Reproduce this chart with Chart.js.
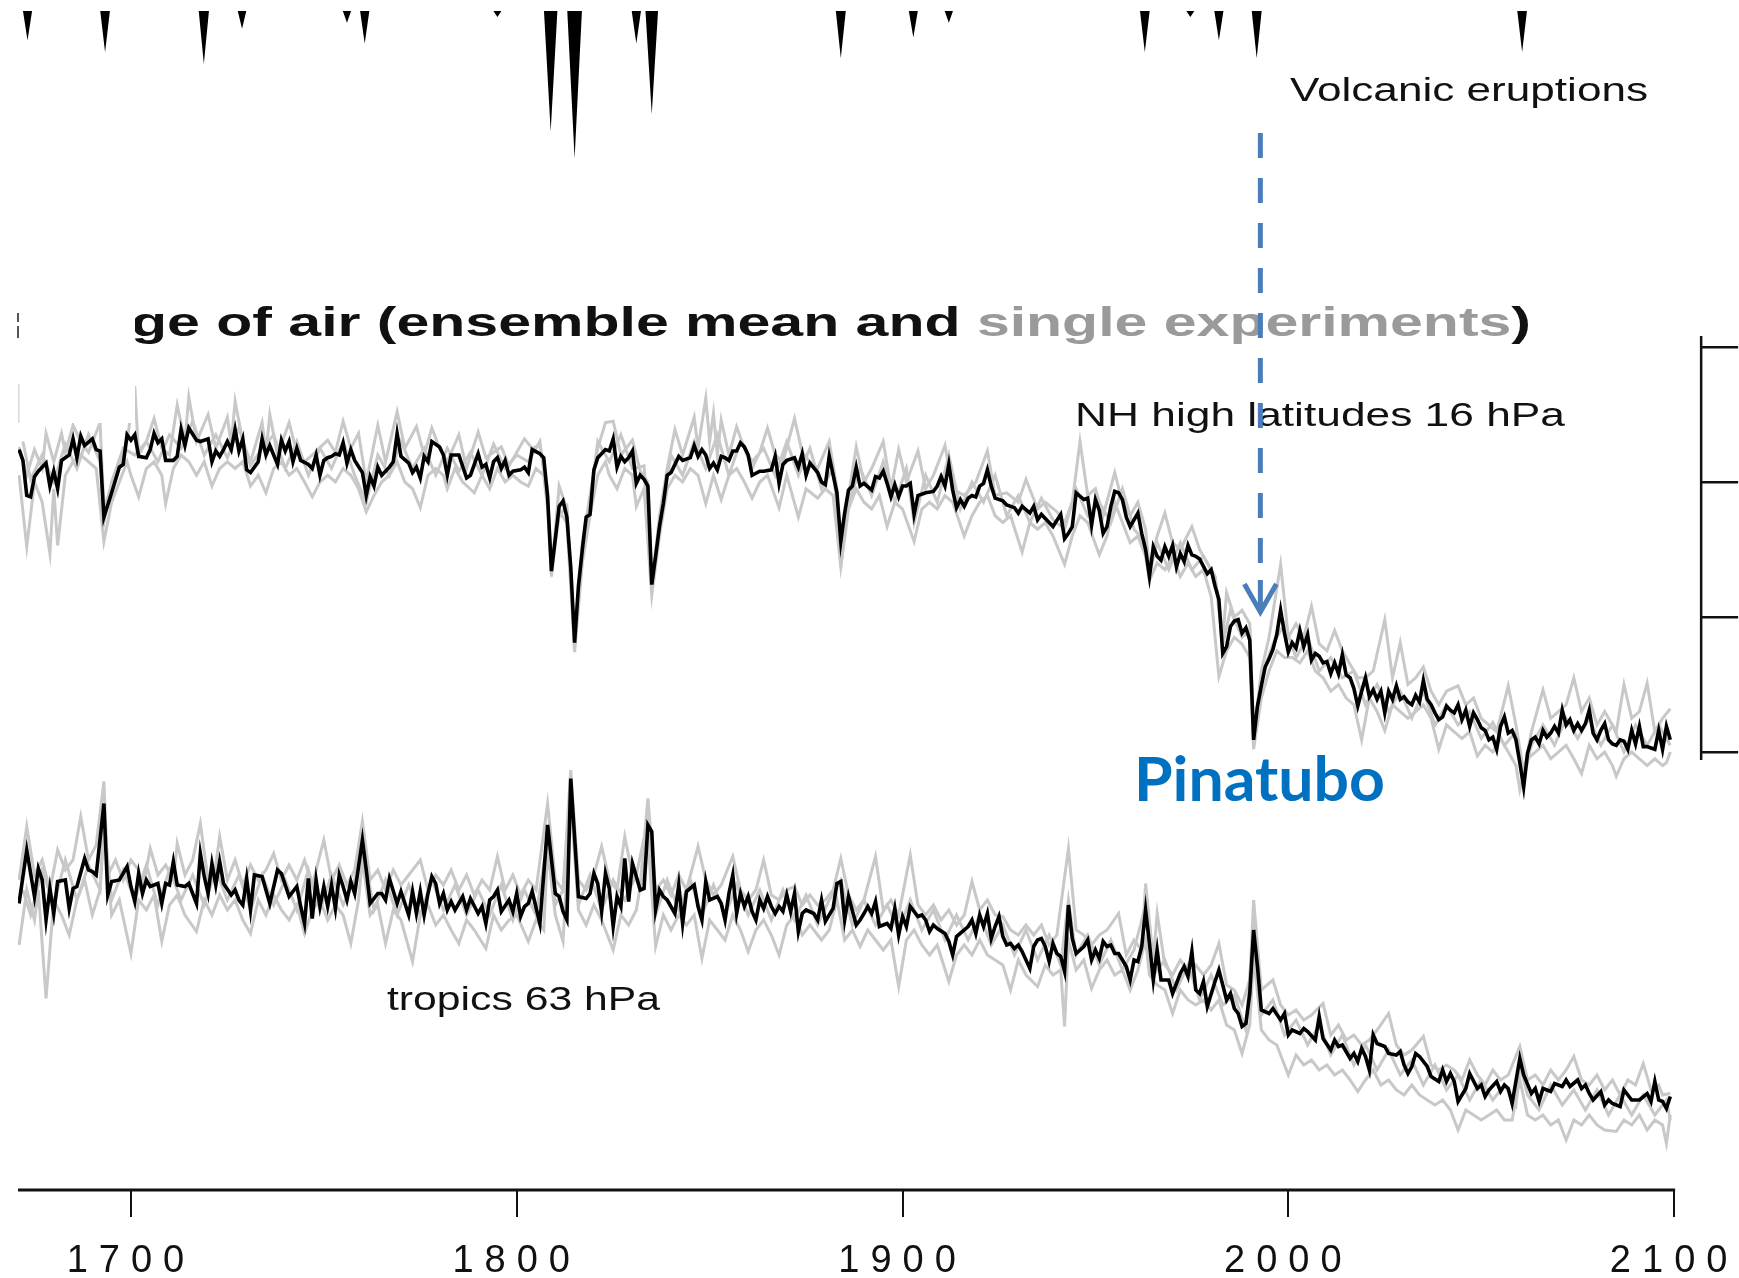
<!DOCTYPE html>
<html>
<head>
<meta charset="utf-8">
<title>Mean age of air</title>
<script src="https://cdn.jsdelivr.net/npm/chart.js@4.4.1/dist/chart.umd.min.js"></script>
<style>
  html, body { margin: 0; padding: 0; background: #ffffff; }
  #wrap { width: 1739px; height: 1278px; position: relative; }
  canvas { display: block; }
</style>
</head>
<body>
<div id="wrap"><canvas id="c" width="1739" height="1278"></canvas></div>
<script>
// ---------------------------------------------------------------
// Axis ticks
// ---------------------------------------------------------------
const TICK_YEARS = [1700, 1800, 1900, 2000, 2100];
const NH_AGE_TICKS = [4, 5, 6, 7];

// ---------------------------------------------------------------
// Volcanic eruptions: year and stratospheric aerosol forcing
// ---------------------------------------------------------------
const eruptionYears   = [1673.2, 1693.3, 1718.9, 1728.8, 1756.0, 1760.6, 1795.0, 1808.8, 1815.0, 1831.0,
                         1835.0, 1884.0, 1902.8, 1912.0, 1962.8, 1974.6, 1982.0, 1991.8, 2060.6];
const eruptionForcing = [0.10, 0.14, 0.18, 0.06, 0.04, 0.11, 0.02, 0.41, 0.50, 0.11,
                         0.35, 0.16, 0.09, 0.04, 0.14, 0.02, 0.10, 0.16, 0.14];

// ---------------------------------------------------------------
// NH high latitudes 16 hPa, mean age of air (years): [year, age]
// ---------------------------------------------------------------
const nhEnsembleMean = [
  [1671,6.24],[1672,6.16],[1673,5.90],[1674,5.89],[1675,6.04],[1676,6.08],[1678,6.14],[1679,5.97],[1680,6.08],[1681,5.95],
  [1682,6.16],[1684,6.20],[1685,6.32],[1686,6.18],[1687,6.34],[1688,6.27],[1690,6.32],[1691,6.24],[1692,6.23],[1693,5.74],
  [1695,5.92],[1697,6.11],[1698,6.13],[1699,6.35],[1700,6.31],[1701,6.35],[1702,6.19],[1704,6.18],[1705,6.24],[1706,6.36],
  [1707,6.29],[1708,6.32],[1709,6.16],[1711,6.16],[1712,6.19],[1713,6.39],[1714,6.27],[1715,6.40],[1717,6.31],[1718,6.30],
  [1720,6.32],[1721,6.15],[1722,6.23],[1723,6.19],[1724,6.24],[1725,6.30],[1726,6.24],[1727,6.39],[1728,6.23],[1729,6.32],
  [1730,6.09],[1731,6.07],[1733,6.15],[1734,6.32],[1735,6.20],[1736,6.27],[1737,6.20],[1738,6.13],[1739,6.31],[1740,6.23],
  [1741,6.30],[1742,6.15],[1743,6.25],[1744,6.16],[1746,6.13],[1747,6.10],[1748,6.20],[1749,6.05],[1750,6.16],[1751,6.18],
  [1752,6.19],[1753,6.21],[1754,6.20],[1755,6.29],[1756,6.14],[1757,6.24],[1758,6.16],[1760,6.07],[1761,5.90],[1762,6.04],
  [1763,5.97],[1764,6.11],[1765,6.05],[1767,6.11],[1768,6.15],[1769,6.36],[1770,6.19],[1772,6.14],[1773,6.07],[1774,6.11],
  [1775,6.03],[1776,6.19],[1777,6.15],[1778,6.30],[1780,6.26],[1781,6.20],[1782,6.05],[1783,6.20],[1785,6.20],[1787,6.03],
  [1788,6.05],[1790,6.21],[1791,6.11],[1792,6.13],[1793,6.03],[1794,6.15],[1795,6.18],[1796,6.10],[1797,6.16],[1798,6.05],
  [1799,6.08],[1801,6.09],[1802,6.11],[1803,6.07],[1804,6.24],[1806,6.21],[1807,6.18],[1808,5.89],[1809,5.34],[1811,5.82],
  [1812,5.86],[1813,5.74],[1814,5.37],[1815,4.81],[1816,5.23],[1817,5.50],[1818,5.74],[1819,5.76],[1820,6.09],[1821,6.18],
  [1823,6.24],[1824,6.23],[1825,6.32],[1826,6.11],[1827,6.19],[1828,6.15],[1829,6.18],[1830,6.23],[1831,5.99],[1832,6.05],
  [1833,6.02],[1834,5.97],[1835,5.24],[1836,5.45],[1837,5.67],[1838,5.84],[1839,6.05],[1840,6.07],[1842,6.19],[1843,6.16],
  [1845,6.18],[1846,6.27],[1847,6.19],[1848,6.24],[1849,6.20],[1850,6.10],[1851,6.14],[1852,6.09],[1853,6.19],[1854,6.18],
  [1855,6.16],[1856,6.23],[1857,6.23],[1858,6.29],[1859,6.26],[1860,6.20],[1861,6.05],[1863,6.08],[1864,6.08],[1866,6.09],
  [1867,6.19],[1868,5.99],[1869,6.13],[1870,6.16],[1872,6.18],[1873,6.11],[1874,6.21],[1875,6.05],[1876,6.14],[1878,6.07],
  [1879,6.00],[1880,5.98],[1881,6.19],[1883,5.92],[1884,5.56],[1885,5.77],[1886,5.94],[1887,5.97],[1888,6.11],[1889,5.97],
  [1890,5.99],[1892,5.94],[1893,6.04],[1894,6.03],[1895,6.08],[1896,5.99],[1897,5.89],[1898,5.98],[1899,5.89],[1900,5.97],
  [1901,5.97],[1902,5.99],[1903,5.76],[1904,5.90],[1906,5.92],[1908,5.93],[1909,5.97],[1910,6.04],[1911,5.97],[1912,6.13],
  [1913,5.94],[1914,5.81],[1915,5.87],[1916,5.82],[1917,5.88],[1918,5.90],[1919,5.89],[1920,5.97],[1921,5.99],[1922,6.09],
  [1923,5.97],[1924,5.88],[1926,5.86],[1927,5.83],[1929,5.81],[1930,5.77],[1931,5.82],[1933,5.77],[1934,5.82],[1935,5.72],
  [1936,5.76],[1937,5.73],[1939,5.67],[1941,5.76],[1942,5.58],[1943,5.62],[1944,5.67],[1945,5.92],[1947,5.87],[1948,5.88],
  [1949,5.68],[1950,5.87],[1951,5.79],[1952,5.62],[1953,5.67],[1954,5.82],[1955,5.93],[1956,5.92],[1957,5.87],[1958,5.74],
  [1959,5.67],[1960,5.72],[1961,5.77],[1962,5.62],[1963,5.50],[1964,5.30],[1965,5.52],[1966,5.45],[1967,5.42],[1968,5.52],
  [1969,5.45],[1970,5.53],[1971,5.37],[1972,5.47],[1973,5.41],[1974,5.53],[1975,5.46],[1976,5.45],[1977,5.43],[1979,5.32],
  [1980,5.35],[1981,5.23],[1982,5.13],[1983,4.73],[1984,4.78],[1985,4.93],[1986,4.97],[1987,4.98],[1988,4.88],[1989,4.92],
  [1990,4.83],[1991,4.09],[1992,4.34],[1993,4.49],[1994,4.63],[1995,4.69],[1996,4.76],[1997,4.87],[1998,5.05],[1999,4.88],
  [2000,4.74],[2001,4.81],[2002,4.77],[2003,4.90],[2004,4.78],[2005,4.87],[2006,4.68],[2007,4.73],[2008,4.71],[2009,4.66],
  [2010,4.67],[2011,4.58],[2012,4.66],[2013,4.58],[2014,4.72],[2015,4.57],[2016,4.55],[2017,4.47],[2018,4.34],[2019,4.45],
  [2020,4.55],[2021,4.41],[2022,4.46],[2023,4.39],[2024,4.45],[2025,4.29],[2026,4.45],[2027,4.39],[2028,4.49],[2029,4.39],
  [2030,4.41],[2031,4.37],[2032,4.35],[2033,4.42],[2034,4.37],[2035,4.53],[2036,4.39],[2037,4.35],[2038,4.29],[2039,4.24],
  [2040,4.26],[2041,4.34],[2042,4.31],[2043,4.29],[2044,4.35],[2045,4.24],[2046,4.31],[2047,4.19],[2048,4.29],[2049,4.24],
  [2050,4.18],[2051,4.16],[2052,4.09],[2053,4.11],[2054,4.02],[2055,4.19],[2056,4.26],[2057,4.14],[2058,4.16],[2059,4.09],
  [2060,3.92],[2061,3.74],[2062,3.99],[2063,4.09],[2064,4.11],[2065,4.06],[2066,4.16],[2067,4.11],[2068,4.14],[2069,4.19],
  [2070,4.14],[2071,4.31],[2072,4.20],[2073,4.24],[2074,4.16],[2075,4.21],[2076,4.16],[2077,4.21],[2078,4.31],[2079,4.14],
  [2080,4.09],[2081,4.16],[2082,4.21],[2083,4.09],[2084,4.06],[2085,4.05],[2086,4.09],[2087,4.08],[2088,4.02],[2089,4.16],
  [2090,4.06],[2091,4.19],[2092,4.04],[2093,4.04],[2094,4.03],[2095,4.02],[2096,4.16],[2097,4.02],[2098,4.19],[2099,4.09]
];

const nhRunA = [
  [1671,6.26],[1673,6.05],[1675,6.24],[1677,6.10],[1678,6.36],[1680,6.15],[1682,6.36],[1683,6.22],[1685,6.42],[1687,6.30],
  [1689,6.22],[1692,6.44],[1693,5.80],[1695,5.98],[1697,6.12],[1699,6.30],[1701,6.71],[1702,6.20],[1704,6.30],[1706,6.47],
  [1708,6.25],[1710,6.20],[1712,6.57],[1714,6.30],[1715,6.63],[1717,6.30],[1720,6.50],[1722,6.25],[1725,6.48],[1726,6.28],
  [1727,6.60],[1729,6.30],[1731,6.15],[1734,6.44],[1735,6.22],[1736,6.50],[1738,6.20],[1741,6.44],[1743,6.22],[1745,6.15],
  [1747,6.20],[1751,6.31],[1753,6.22],[1755,6.45],[1757,6.25],[1759,6.36],[1761,6.00],[1764,6.42],[1766,6.15],[1769,6.52],
  [1771,6.25],[1774,6.41],[1776,6.20],[1778,6.40],[1780,6.25],[1782,6.15],[1785,6.35],[1787,6.10],[1790,6.37],[1792,6.18],
  [1794,6.22],[1796,6.26],[1798,6.12],[1802,6.32],[1804,6.25],[1806,6.27],[1808,5.95],[1809,5.32],[1811,5.97],[1813,5.80],
  [1815,4.78],[1817,5.55],[1819,5.90],[1821,6.25],[1823,6.44],[1825,6.45],[1827,6.20],[1830,6.31],[1832,6.08],[1834,6.00],
  [1835,5.20],[1837,5.75],[1839,6.10],[1841,6.39],[1843,6.20],[1846,6.48],[1847,6.25],[1849,6.62],[1850,6.30],[1851,6.51],
  [1852,6.20],[1853,6.46],[1855,6.20],[1857,6.41],[1859,6.25],[1861,6.10],[1863,6.22],[1865,6.40],[1867,6.20],[1869,6.15],
  [1872,6.47],[1874,6.22],[1876,6.15],[1878,6.10],[1881,6.30],[1883,5.95],[1884,5.37],[1886,5.90],[1888,6.26],[1890,6.00],
  [1892,6.10],[1895,6.30],[1897,5.95],[1899,6.24],[1901,6.00],[1904,6.23],[1906,5.95],[1908,6.05],[1911,6.27],[1913,5.95],
  [1916,5.90],[1919,6.00],[1922,6.23],[1924,5.90],[1927,5.92],[1930,5.85],[1932,6.02],[1935,5.80],[1937,5.85],[1940,5.78],
  [1942,5.70],[1944,5.85],[1946,6.30],[1948,5.90],[1950,5.95],[1952,5.75],[1955,6.07],[1957,5.85],[1959,5.75],[1961,5.85],
  [1963,5.65],[1964,5.35],[1966,5.60],[1968,5.77],[1970,5.55],[1972,5.50],[1975,5.67],[1977,5.50],[1979,5.40],[1981,5.30],
  [1982,5.10],[1983,4.85],[1984,5.18],[1986,5.00],[1988,5.05],[1990,4.95],[1991,4.10],[1993,4.60],[1995,4.85],[1998,5.39],
  [2000,4.85],[2002,4.95],[2004,4.85],[2006,5.08],[2008,4.80],[2010,4.75],[2012,4.90],[2014,4.75],[2016,4.65],[2018,4.55],
  [2020,4.55],[2022,4.60],[2025,4.98],[2027,4.55],[2029,4.81],[2031,4.50],[2033,4.55],[2035,4.63],[2037,4.45],[2039,4.35],
  [2041,4.45],[2044,4.49],[2046,4.35],[2048,4.40],[2050,4.25],[2052,4.20],[2054,4.15],[2057,4.49],[2059,4.20],[2061,3.85],
  [2063,4.15],[2066,4.46],[2068,4.25],[2070,4.30],[2072,4.35],[2074,4.55],[2076,4.30],[2078,4.40],[2080,4.20],[2082,4.30],
  [2085,4.15],[2087,4.50],[2089,4.25],[2091,4.30],[2093,4.51],[2095,4.15],[2097,4.25],[2099,4.32]
];

const nhRunB = [
  [1671,6.05],[1673,5.52],[1675,6.00],[1677,5.85],[1679,5.47],[1680,5.95],[1681,5.53],[1683,6.05],[1685,6.15],[1687,6.20],
  [1689,6.15],[1691,6.10],[1693,5.56],[1695,5.85],[1697,6.00],[1699,6.15],[1700,6.05],[1702,5.89],[1704,6.10],[1706,6.15],
  [1708,6.05],[1709,5.84],[1711,6.10],[1713,6.20],[1715,6.15],[1717,6.05],[1719,6.15],[1721,5.97],[1723,6.10],[1725,6.15],
  [1727,6.10],[1729,6.15],[1731,5.97],[1733,6.05],[1735,5.92],[1737,6.10],[1739,6.15],[1741,6.05],[1743,6.10],[1745,6.00],
  [1747,5.89],[1749,6.00],[1751,6.05],[1753,6.00],[1755,6.10],[1757,6.05],[1759,5.95],[1761,5.78],[1763,5.90],[1765,6.00],
  [1767,6.05],[1769,6.15],[1771,6.00],[1773,5.95],[1775,5.81],[1777,6.05],[1779,6.10],[1781,6.05],[1782,5.95],[1784,6.10],
  [1786,6.00],[1789,5.92],[1791,6.05],[1793,5.95],[1795,6.10],[1797,6.00],[1799,6.05],[1801,6.00],[1803,5.97],[1805,6.10],
  [1807,6.05],[1808,5.80],[1809,5.30],[1811,5.78],[1813,5.70],[1815,4.74],[1817,5.40],[1819,5.75],[1821,6.05],[1823,6.15],
  [1824,6.05],[1826,5.95],[1828,6.10],[1830,6.05],[1831,5.82],[1833,5.95],[1835,5.16],[1837,5.60],[1839,5.95],[1841,6.05],
  [1843,6.00],[1845,6.10],[1847,6.05],[1849,5.84],[1851,6.05],[1853,5.87],[1855,6.05],[1857,6.10],[1859,6.00],[1861,5.88],
  [1863,6.00],[1865,6.05],[1868,5.81],[1870,6.05],[1873,5.74],[1875,5.95],[1878,5.88],[1880,5.95],[1882,5.90],[1884,5.37],
  [1886,5.80],[1888,5.95],[1890,5.85],[1892,5.80],[1894,5.90],[1896,5.67],[1898,5.85],[1900,5.80],[1903,5.56],[1905,5.80],
  [1907,5.85],[1909,5.80],[1911,5.90],[1913,5.85],[1916,5.60],[1918,5.75],[1920,5.85],[1922,5.90],[1924,5.75],[1926,5.70],
  [1928,5.75],[1931,5.48],[1933,5.70],[1935,5.65],[1937,5.70],[1939,5.60],[1942,5.39],[1944,5.60],[1946,5.75],[1948,5.70],
  [1951,5.46],[1953,5.60],[1955,5.85],[1957,5.70],[1959,5.55],[1961,5.60],[1963,5.45],[1964,5.27],[1966,5.40],[1968,5.35],
  [1970,5.45],[1972,5.30],[1974,5.40],[1976,5.30],[1978,5.35],[1980,5.15],[1982,4.56],[1984,4.75],[1986,4.85],[1988,4.80],
  [1990,4.70],[1991,4.02],[1993,4.40],[1995,4.60],[1997,4.75],[1999,4.70],[2001,4.70],[2003,4.66],[2005,4.75],[2007,4.60],
  [2009,4.55],[2011,4.45],[2013,4.50],[2015,4.40],[2017,4.35],[2019,4.09],[2021,4.40],[2023,4.30],[2025,4.16],[2027,4.35],
  [2029,4.30],[2031,4.25],[2033,4.30],[2035,4.35],[2037,4.25],[2039,4.02],[2041,4.20],[2043,4.15],[2045,4.10],[2047,4.15],
  [2049,3.97],[2051,4.05],[2053,4.00],[2055,4.10],[2057,4.00],[2059,3.90],[2060,3.72],[2062,3.95],[2064,4.00],[2066,4.05],
  [2068,3.95],[2070,4.00],[2072,4.05],[2074,3.95],[2076,3.84],[2078,4.05],[2080,3.95],[2082,4.00],[2084,3.90],[2085,3.82],
  [2087,3.95],[2089,4.00],[2091,3.95],[2093,3.90],[2095,3.95],[2097,3.90],[2098,3.92],[2099,4.00]
];

const nhRunC = [
  [1672,6.30],[1674,6.02],[1677,6.20],[1680,6.00],[1683,6.28],[1686,6.10],[1689,6.35],[1692,6.15],[1693,5.70],[1695,6.00],
  [1698,6.25],[1701,6.20],[1704,6.30],[1707,6.15],[1710,6.35],[1713,6.25],[1716,6.45],[1719,6.20],[1722,6.35],[1725,6.18],
  [1728,6.40],[1731,6.12],[1734,6.25],[1737,6.35],[1740,6.10],[1743,6.30],[1746,6.05],[1749,6.25],[1752,6.10],[1755,6.30],
  [1758,6.05],[1761,5.85],[1764,6.20],[1767,6.05],[1770,6.30],[1773,6.10],[1776,6.25],[1779,6.05],[1782,6.25],[1785,6.08],
  [1788,6.22],[1791,6.05],[1794,6.28],[1797,6.10],[1800,6.20],[1803,6.15],[1806,6.30],[1808,5.85],[1809,5.38],[1811,5.75],
  [1813,5.82],[1815,4.85],[1817,5.45],[1819,5.85],[1821,6.30],[1824,6.15],[1827,6.35],[1830,6.10],[1833,6.12],[1835,5.28],
  [1837,5.70],[1840,6.20],[1843,6.05],[1846,6.30],[1849,6.10],[1852,6.35],[1855,6.05],[1858,6.30],[1861,6.15],[1864,6.25],
  [1867,6.05],[1870,6.30],[1873,6.05],[1876,6.25],[1879,5.95],[1882,6.10],[1884,5.50],[1886,5.85],[1889,6.10],[1892,5.90],
  [1895,6.15],[1898,5.85],[1901,6.10],[1903,5.70],[1906,6.05],[1909,5.85],[1912,6.20],[1915,5.80],[1918,6.00],[1921,5.85],
  [1924,6.05],[1927,5.75],[1930,5.90],[1933,5.70],[1936,5.88],[1939,5.72],[1942,5.65],[1945,5.95],[1948,5.75],[1951,5.85],
  [1954,5.70],[1957,5.95],[1960,5.65],[1963,5.55],[1964,5.32],[1966,5.55],[1969,5.35],[1972,5.55],[1975,5.35],[1978,5.45],
  [1981,5.30],[1983,4.80],[1985,5.05],[1988,4.85],[1990,4.90],[1991,4.15],[1993,4.55],[1996,4.80],[1999,4.95],[2002,4.70],
  [2005,4.85],[2008,4.60],[2011,4.70],[2014,4.55],[2017,4.60],[2020,4.35],[2023,4.50],[2026,4.30],[2029,4.45],[2032,4.25],
  [2035,4.45],[2038,4.20],[2041,4.35],[2044,4.20],[2047,4.30],[2050,4.10],[2053,4.22],[2056,4.05],[2059,4.15],[2061,3.80],
  [2063,4.05],[2066,4.20],[2069,4.05],[2072,4.25],[2075,4.10],[2078,4.25],[2081,4.05],[2084,4.20],[2087,4.00],[2090,4.20],
  [2093,4.05],[2096,4.20],[2099,4.05]
];

// ---------------------------------------------------------------
// Tropics 63 hPa, mean age of air (years): [year, age]
// ---------------------------------------------------------------
const trEnsembleMean = [
  [1671,0.573],[1673,0.680],[1675,0.587],[1676,0.643],[1677,0.620],[1678,0.540],[1679,0.603],[1680,0.553],[1681,0.617],[1683,0.620],
  [1684,0.563],[1685,0.603],[1686,0.607],[1688,0.663],[1689,0.640],[1690,0.637],[1691,0.630],[1693,0.773],[1694,0.590],[1695,0.617],
  [1697,0.620],[1699,0.647],[1700,0.607],[1701,0.577],[1702,0.633],[1703,0.593],[1704,0.620],[1705,0.607],[1707,0.613],[1708,0.573],
  [1709,0.613],[1710,0.610],[1711,0.657],[1712,0.610],[1714,0.607],[1715,0.613],[1717,0.573],[1718,0.673],[1719,0.627],[1720,0.593],
  [1721,0.653],[1722,0.610],[1723,0.657],[1724,0.613],[1726,0.590],[1727,0.600],[1728,0.580],[1729,0.570],[1730,0.623],[1731,0.560],
  [1732,0.630],[1734,0.627],[1736,0.573],[1738,0.640],[1739,0.633],[1741,0.587],[1743,0.607],[1744,0.567],[1745,0.533],[1746,0.623],
  [1747,0.543],[1748,0.620],[1749,0.567],[1750,0.607],[1751,0.567],[1752,0.610],[1753,0.563],[1754,0.630],[1755,0.607],[1756,0.580],
  [1757,0.617],[1758,0.593],[1760,0.700],[1761,0.640],[1762,0.573],[1764,0.593],[1765,0.593],[1766,0.580],[1767,0.623],[1769,0.573],
  [1770,0.597],[1772,0.550],[1773,0.597],[1774,0.553],[1775,0.597],[1776,0.550],[1777,0.593],[1778,0.627],[1779,0.613],[1780,0.573],
  [1781,0.593],[1782,0.560],[1783,0.577],[1784,0.560],[1786,0.587],[1787,0.560],[1788,0.583],[1790,0.553],[1791,0.567],[1792,0.533],
  [1793,0.580],[1794,0.587],[1795,0.600],[1796,0.557],[1798,0.580],[1799,0.557],[1800,0.593],[1801,0.547],[1802,0.567],[1803,0.573],
  [1804,0.597],[1806,0.533],[1808,0.730],[1810,0.593],[1811,0.587],[1812,0.557],[1813,0.540],[1814,0.823],[1816,0.587],[1818,0.583],
  [1819,0.593],[1820,0.633],[1821,0.613],[1822,0.557],[1823,0.633],[1824,0.603],[1825,0.527],[1826,0.587],[1827,0.567],[1828,0.663],
  [1829,0.577],[1830,0.653],[1831,0.627],[1832,0.600],[1833,0.603],[1834,0.730],[1835,0.717],[1836,0.560],[1837,0.600],[1838,0.587],
  [1839,0.580],[1841,0.553],[1842,0.610],[1843,0.533],[1844,0.597],[1846,0.610],[1847,0.567],[1848,0.540],[1849,0.617],[1850,0.580],
  [1852,0.587],[1853,0.573],[1854,0.540],[1855,0.593],[1856,0.630],[1857,0.553],[1858,0.593],[1859,0.567],[1860,0.587],[1861,0.557],
  [1862,0.540],[1863,0.580],[1864,0.563],[1865,0.587],[1866,0.567],[1867,0.553],[1868,0.567],[1869,0.557],[1870,0.590],[1871,0.557],
  [1872,0.593],[1873,0.517],[1874,0.553],[1875,0.560],[1877,0.553],[1878,0.540],[1879,0.580],[1880,0.537],[1882,0.563],[1883,0.613],
  [1884,0.617],[1885,0.540],[1886,0.587],[1888,0.530],[1889,0.540],[1890,0.553],[1891,0.567],[1892,0.553],[1893,0.577],[1894,0.527],
  [1896,0.533],[1897,0.523],[1898,0.563],[1899,0.510],[1900,0.547],[1901,0.527],[1902,0.567],[1904,0.547],[1905,0.550],[1906,0.540],
  [1907,0.517],[1908,0.530],[1909,0.523],[1911,0.513],[1912,0.497],[1913,0.470],[1914,0.507],[1916,0.520],[1917,0.527],[1918,0.540],
  [1919,0.513],[1920,0.550],[1921,0.527],[1922,0.553],[1923,0.503],[1924,0.527],[1925,0.547],[1926,0.507],[1927,0.490],[1928,0.493],
  [1929,0.483],[1930,0.490],[1931,0.477],[1933,0.443],[1934,0.487],[1935,0.500],[1936,0.503],[1937,0.487],[1938,0.457],[1939,0.493],
  [1940,0.473],[1941,0.467],[1942,0.437],[1943,0.570],[1944,0.503],[1945,0.473],[1947,0.487],[1948,0.500],[1949,0.460],[1950,0.480],
  [1951,0.463],[1952,0.497],[1953,0.487],[1954,0.490],[1955,0.473],[1956,0.473],[1957,0.460],[1958,0.447],[1959,0.420],[1960,0.460],
  [1961,0.457],[1962,0.487],[1963,0.560],[1964,0.493],[1965,0.420],[1966,0.480],[1967,0.420],[1969,0.420],[1970,0.393],[1972,0.433],
  [1973,0.447],[1974,0.427],[1975,0.477],[1976,0.400],[1977,0.393],[1978,0.417],[1979,0.367],[1981,0.417],[1982,0.440],[1984,0.380],
  [1985,0.393],[1986,0.363],[1987,0.353],[1988,0.327],[1989,0.333],[1990,0.393],[1991,0.520],[1992,0.447],[1993,0.360],[1995,0.353],
  [1996,0.363],[1998,0.340],[1999,0.353],[2000,0.310],[2001,0.320],[2003,0.313],[2004,0.323],[2005,0.317],[2007,0.300],[2008,0.347],
  [2009,0.303],[2011,0.280],[2012,0.300],[2013,0.287],[2014,0.290],[2016,0.263],[2017,0.273],[2018,0.257],[2019,0.283],[2020,0.267],
  [2021,0.240],[2022,0.310],[2023,0.293],[2025,0.287],[2026,0.273],[2028,0.270],[2029,0.277],[2030,0.250],[2031,0.233],[2032,0.247],
  [2033,0.273],[2034,0.267],[2036,0.247],[2037,0.227],[2039,0.217],[2040,0.240],[2041,0.217],[2042,0.233],[2043,0.217],[2044,0.177],
  [2046,0.203],[2047,0.233],[2049,0.203],[2050,0.210],[2051,0.187],[2052,0.200],[2054,0.217],[2055,0.197],[2056,0.210],[2057,0.203],
  [2058,0.173],[2060,0.263],[2061,0.230],[2063,0.193],[2064,0.203],[2065,0.177],[2066,0.203],[2068,0.197],[2069,0.213],[2071,0.207],
  [2072,0.220],[2073,0.207],[2075,0.220],[2076,0.203],[2077,0.210],[2078,0.193],[2079,0.180],[2081,0.197],[2082,0.170],[2083,0.180],
  [2084,0.173],[2086,0.167],[2087,0.200],[2089,0.180],[2090,0.180],[2091,0.180],[2093,0.193],[2094,0.177],[2095,0.217],[2096,0.180],
  [2097,0.177],[2098,0.163],[2099,0.187]
];

const trRunA = [
  [1671,0.62],[1673,0.727],[1675,0.63],[1677,0.66],[1679,0.60],[1681,0.68],[1683,0.64],[1685,0.66],[1687,0.747],[1689,0.66],
  [1691,0.69],[1693,0.817],[1694,0.63],[1696,0.66],[1698,0.62],[1700,0.66],[1702,0.64],[1703,0.60],[1705,0.683],[1707,0.63],
  [1709,0.65],[1711,0.62],[1712,0.693],[1714,0.63],[1716,0.66],[1718,0.733],[1720,0.62],[1722,0.65],[1723,0.707],[1725,0.62],
  [1727,0.66],[1729,0.61],[1731,0.65],[1733,0.62],[1735,0.64],[1737,0.673],[1739,0.62],[1741,0.65],[1743,0.62],[1745,0.66],
  [1747,0.61],[1750,0.70],[1752,0.62],[1754,0.65],[1756,0.61],[1758,0.64],[1760,0.737],[1762,0.62],[1764,0.64],[1766,0.60],
  [1768,0.64],[1770,0.61],[1772,0.63],[1775,0.66],[1777,0.60],[1779,0.63],[1781,0.61],[1783,0.64],[1785,0.60],[1787,0.63],
  [1789,0.59],[1791,0.62],[1793,0.60],[1795,0.667],[1797,0.60],[1799,0.63],[1801,0.59],[1803,0.62],[1805,0.60],[1808,0.773],
  [1810,0.62],[1812,0.60],[1814,0.84],[1816,0.62],[1818,0.60],[1820,0.63],[1822,0.687],[1824,0.62],[1826,0.60],[1828,0.707],
  [1830,0.63],[1832,0.61],[1834,0.783],[1836,0.60],[1838,0.62],[1840,0.59],[1842,0.63],[1844,0.60],[1847,0.687],[1849,0.62],
  [1851,0.59],[1853,0.61],[1856,0.667],[1858,0.60],[1860,0.58],[1862,0.60],[1864,0.66],[1866,0.59],[1868,0.58],[1870,0.60],
  [1872,0.607],[1874,0.57],[1876,0.59],[1878,0.57],[1880,0.58],[1882,0.60],[1884,0.663],[1886,0.59],[1888,0.56],[1890,0.58],
  [1893,0.667],[1895,0.56],[1897,0.58],[1899,0.55],[1902,0.67],[1904,0.57],[1906,0.55],[1908,0.57],[1910,0.54],[1912,0.56],
  [1914,0.53],[1916,0.55],[1918,0.617],[1920,0.56],[1922,0.58],[1924,0.55],[1926,0.547],[1928,0.52],[1930,0.51],[1932,0.53],
  [1934,0.51],[1936,0.53],[1938,0.49],[1940,0.51],[1943,0.683],[1945,0.52],[1947,0.51],[1949,0.49],[1951,0.51],[1953,0.52],
  [1956,0.553],[1958,0.47],[1960,0.50],[1962,0.48],[1963,0.613],[1965,0.46],[1966,0.553],[1968,0.45],[1970,0.43],[1972,0.46],
  [1974,0.44],[1976,0.45],[1978,0.43],[1980,0.45],[1982,0.493],[1984,0.41],[1986,0.40],[1988,0.37],[1990,0.42],[1991,0.58],
  [1993,0.40],[1996,0.42],[1998,0.37],[2000,0.35],[2002,0.36],[2004,0.34],[2006,0.35],[2009,0.373],[2011,0.31],[2013,0.33],
  [2015,0.30],[2017,0.31],[2019,0.29],[2021,0.30],[2023,0.32],[2026,0.353],[2028,0.29],[2030,0.27],[2032,0.28],[2035,0.307],
  [2037,0.25],[2039,0.24],[2041,0.25],[2043,0.24],[2045,0.22],[2047,0.26],[2049,0.23],[2051,0.21],[2053,0.24],[2055,0.22],
  [2057,0.23],[2060,0.287],[2062,0.22],[2064,0.23],[2066,0.21],[2068,0.24],[2070,0.22],[2072,0.24],[2074,0.267],[2076,0.22],
  [2078,0.21],[2080,0.23],[2082,0.20],[2084,0.22],[2086,0.19],[2088,0.22],[2090,0.21],[2092,0.253],[2094,0.20],[2096,0.21],
  [2097,0.19],[2099,0.193]
];

const trRunB = [
  [1671,0.49],[1673,0.60],[1675,0.54],[1676,0.60],[1678,0.383],[1680,0.58],[1682,0.55],[1684,0.51],[1686,0.58],[1688,0.62],
  [1690,0.55],[1692,0.60],[1693,0.72],[1695,0.55],[1697,0.58],[1700,0.473],[1702,0.58],[1704,0.56],[1706,0.59],[1708,0.497],
  [1710,0.57],[1712,0.59],[1714,0.55],[1717,0.517],[1719,0.58],[1721,0.55],[1723,0.59],[1725,0.56],[1727,0.58],[1729,0.54],
  [1731,0.513],[1733,0.58],[1735,0.55],[1737,0.59],[1739,0.56],[1741,0.54],[1743,0.57],[1745,0.513],[1747,0.56],[1749,0.58],
  [1751,0.54],[1753,0.57],[1755,0.55],[1757,0.493],[1759,0.58],[1760,0.66],[1762,0.55],[1764,0.57],[1766,0.493],[1768,0.56],
  [1770,0.54],[1773,0.457],[1775,0.55],[1777,0.57],[1779,0.53],[1781,0.55],[1783,0.52],[1785,0.493],[1787,0.54],[1789,0.52],
  [1792,0.483],[1794,0.55],[1796,0.52],[1798,0.54],[1800,0.55],[1803,0.497],[1805,0.54],[1807,0.52],[1808,0.68],[1810,0.55],
  [1812,0.497],[1814,0.78],[1816,0.56],[1818,0.53],[1820,0.57],[1822,0.54],[1825,0.48],[1827,0.55],[1829,0.53],[1831,0.56],
  [1834,0.70],[1836,0.487],[1838,0.55],[1840,0.52],[1842,0.55],[1844,0.53],[1846,0.55],[1848,0.463],[1850,0.54],[1852,0.52],
  [1854,0.50],[1856,0.55],[1858,0.52],[1860,0.477],[1862,0.52],[1864,0.54],[1866,0.51],[1868,0.47],[1870,0.53],[1872,0.55],
  [1874,0.51],[1876,0.53],[1879,0.50],[1881,0.52],[1883,0.58],[1885,0.50],[1887,0.52],[1889,0.487],[1891,0.52],[1893,0.50],
  [1895,0.48],[1897,0.50],[1899,0.407],[1901,0.50],[1903,0.52],[1905,0.49],[1907,0.47],[1909,0.49],[1912,0.417],[1914,0.47],
  [1916,0.49],[1918,0.47],[1920,0.50],[1922,0.47],[1924,0.46],[1926,0.45],[1928,0.40],[1930,0.46],[1932,0.43],[1935,0.407],
  [1937,0.45],[1939,0.43],[1941,0.44],[1942,0.327],[1943,0.50],[1945,0.44],[1947,0.46],[1949,0.403],[1951,0.44],[1953,0.46],
  [1955,0.43],[1957,0.44],[1959,0.40],[1961,0.44],[1963,0.50],[1964,0.43],[1966,0.41],[1968,0.40],[1970,0.353],[1972,0.40],
  [1974,0.38],[1976,0.37],[1978,0.38],[1980,0.36],[1982,0.38],[1984,0.33],[1986,0.32],[1988,0.273],[1990,0.33],[1991,0.47],
  [1993,0.32],[1995,0.30],[1997,0.29],[2000,0.23],[2002,0.27],[2004,0.25],[2006,0.26],[2008,0.24],[2010,0.25],[2012,0.23],
  [2014,0.24],[2016,0.22],[2018,0.197],[2020,0.22],[2022,0.24],[2024,0.21],[2026,0.22],[2028,0.20],[2030,0.19],[2032,0.21],
  [2034,0.19],[2036,0.18],[2038,0.17],[2040,0.18],[2042,0.16],[2044,0.12],[2046,0.16],[2048,0.15],[2050,0.14],[2052,0.15],
  [2054,0.16],[2056,0.14],[2058,0.14],[2060,0.22],[2062,0.15],[2064,0.14],[2066,0.15],[2068,0.13],[2070,0.14],[2072,0.10],
  [2074,0.14],[2076,0.13],[2078,0.15],[2080,0.13],[2082,0.12],[2085,0.117],[2087,0.14],[2089,0.13],[2091,0.15],[2093,0.12],
  [2095,0.14],[2097,0.13],[2098,0.093],[2099,0.15]
];

const trRunC = [
  [1672,0.60],[1674,0.55],[1677,0.64],[1680,0.57],[1683,0.66],[1686,0.58],[1689,0.65],[1692,0.60],[1693,0.74],[1695,0.58],
  [1698,0.64],[1701,0.58],[1704,0.65],[1707,0.57],[1710,0.64],[1713,0.58],[1716,0.63],[1719,0.57],[1722,0.64],[1725,0.58],
  [1728,0.63],[1731,0.56],[1734,0.63],[1737,0.57],[1740,0.62],[1743,0.56],[1746,0.64],[1749,0.56],[1752,0.63],[1755,0.57],
  [1758,0.62],[1760,0.69],[1763,0.56],[1766,0.62],[1769,0.55],[1772,0.61],[1775,0.55],[1778,0.62],[1781,0.56],[1784,0.61],
  [1787,0.55],[1790,0.60],[1793,0.55],[1796,0.61],[1799,0.54],[1802,0.60],[1805,0.55],[1808,0.70],[1810,0.57],[1812,0.60],
  [1814,0.80],[1816,0.57],[1819,0.63],[1822,0.56],[1825,0.62],[1828,0.58],[1831,0.63],[1834,0.74],[1836,0.55],[1839,0.62],
  [1842,0.56],[1845,0.62],[1848,0.55],[1851,0.61],[1854,0.55],[1857,0.61],[1860,0.55],[1863,0.60],[1866,0.54],[1869,0.60],
  [1872,0.54],[1875,0.59],[1878,0.53],[1881,0.58],[1884,0.62],[1887,0.53],[1890,0.58],[1893,0.53],[1896,0.57],[1899,0.52],
  [1902,0.58],[1905,0.52],[1908,0.56],[1911,0.50],[1914,0.55],[1917,0.50],[1920,0.55],[1923,0.49],[1926,0.53],[1929,0.47],
  [1932,0.52],[1935,0.46],[1938,0.51],[1941,0.45],[1943,0.58],[1945,0.47],[1948,0.51],[1951,0.45],[1954,0.50],[1957,0.44],
  [1960,0.48],[1963,0.57],[1965,0.43],[1968,0.46],[1971,0.40],[1974,0.45],[1977,0.38],[1980,0.43],[1983,0.37],[1986,0.39],
  [1989,0.32],[1991,0.53],[1993,0.35],[1996,0.38],[1999,0.31],[2002,0.34],[2005,0.29],[2008,0.33],[2011,0.27],[2014,0.31],
  [2017,0.25],[2020,0.29],[2023,0.24],[2026,0.28],[2029,0.23],[2032,0.26],[2035,0.21],[2038,0.25],[2041,0.20],[2044,0.23],
  [2047,0.18],[2050,0.22],[2053,0.18],[2056,0.21],[2059,0.17],[2060,0.25],[2062,0.19],[2065,0.16],[2068,0.21],[2071,0.17],
  [2074,0.20],[2077,0.16],[2080,0.20],[2083,0.15],[2086,0.19],[2089,0.15],[2092,0.19],[2095,0.15],[2098,0.18],[2099,0.14]
];

// ---------------------------------------------------------------
// Drawing setup
// ---------------------------------------------------------------
const X_MIN = 1670.73, X_MAX = 2107.0;          // visible time window
const NH_MIN = 0.7556, NH_MAX = 9.4889;          // NH age scale (right axis)
const TR_MIN = 0.0,    TR_MAX = 2.358;           // tropics age scale
const VOLC_MAX = 4.0;                            // forcing scale, hanging from the top
const SPIKE_HW0 = 1.0, SPIKE_HW1 = 1.8;          // spike half width in years (base + per forcing)

const INK = '#111111';
const GREY_RUN = '#c8c8c8';
const BLUE_ARROW = '#4a7ebb';
const BLUE_TEXT = '#0070c0';

const toXY = arr => arr.map(([x, y]) => ({ x, y }));

// each eruption becomes a narrow triangle hanging from the top edge
const spikePoints = [];
eruptionYears.forEach((yr, i) => {
  const f = eruptionForcing[i];
  const hw = SPIKE_HW0 + SPIKE_HW1 * f;
  spikePoints.push({ x: yr - hw, y: 0 }, { x: yr, y: f }, { x: yr + hw, y: 0 });
});

function lineSet(label, data, axis, color, width) {
  return {
    label, data: toXY(data), yAxisID: axis,
    borderColor: color, borderWidth: width, pointRadius: 0,
    tension: 0, fill: false, borderJoinStyle: 'miter', borderCapStyle: 'butt'
  };
}

// text stretched horizontally so it spans [left, right]
function fitText(ctx, parts, font, left, right, baseline, clipLeft) {
  ctx.save();
  ctx.font = font;
  ctx.textBaseline = 'alphabetic';
  ctx.textAlign = 'left';
  const widths = parts.map(p => ctx.measureText(p[0]).width);
  const total = widths.reduce((a, b) => a + b, 0);
  let sx, start;
  if (clipLeft) {
    // the first part runs under the clip; the rest spans [left, right]
    const visible = total - widths[0];
    sx = (right - left) / visible;
    start = right - total * sx;
    ctx.beginPath();
    ctx.rect(clipLeft, 0, 2000, 2000);
    ctx.clip();
  } else {
    sx = (right - left) / total;
    start = left;
  }
  let x = start;
  parts.forEach((p, i) => {
    ctx.save();
    ctx.translate(x, baseline);
    ctx.scale(sx, 1);
    ctx.fillStyle = p[1];
    ctx.fillText(p[0], 0, 0);
    ctx.restore();
    x += widths[i] * sx;
  });
  ctx.restore();
}

const overlay = {
  id: 'overlay',
  beforeDraw(chart) { chart.ctx.letterSpacing = '11px'; },
  beforeDatasetsDraw(chart) { chart.ctx.letterSpacing = '0px'; },
  afterDraw(chart) {
    const ctx = chart.ctx;
    const xs = chart.scales.x, yn = chart.scales.yNH;
    const area = chart.chartArea;
    ctx.save();
    ctx.letterSpacing = '0px';

    // blank patch at the upper left of the NH panel, with its faint edge
    ctx.fillStyle = '#ffffff';
    ctx.fillRect(19, 380, 116, 43);
    ctx.fillStyle = '#d8d8d8';
    ctx.fillRect(18, 384, 1.5, 39);
    // remnants of the cut-off left axis beside the title
    ctx.fillStyle = '#555555';
    ctx.fillRect(17, 313, 2, 9);
    ctx.fillRect(17, 326, 2, 12);

    // time axis line, first visible year to 2100
    ctx.strokeStyle = INK;
    ctx.lineWidth = 3;
    ctx.beginPath();
    ctx.moveTo(xs.getPixelForValue(X_MIN), area.bottom);
    ctx.lineTo(xs.getPixelForValue(TICK_YEARS[TICK_YEARS.length - 1]) + 1, area.bottom);
    ctx.stroke();

    // right-hand NH age bracket
    ctx.lineWidth = 2.5;
    ctx.beginPath();
    ctx.moveTo(area.right, yn.getPixelForValue(NH_AGE_TICKS[NH_AGE_TICKS.length - 1]) - 11);
    ctx.lineTo(area.right, yn.getPixelForValue(NH_AGE_TICKS[0]) + 8);
    ctx.stroke();

    // texts
    fitText(ctx, [['Mean a', INK], ['ge of air (ensemble mean and ', INK], ['single experiments', '#9a9a9a'], [')', INK]],
            'bold 41px "Liberation Sans", Arial, sans-serif', 131, 1531, 336, 135);
    fitText(ctx, [['Volcanic eruptions', INK]], '33px "Liberation Sans", Arial, sans-serif', 1290, 1648, 101);
    fitText(ctx, [['NH high latitudes 16 hPa', INK]], '34px "Liberation Sans", Arial, sans-serif', 1075, 1565, 426);
    fitText(ctx, [['tropics 63 hPa', INK]], '34px "Liberation Sans", Arial, sans-serif', 387, 660, 1010);
    fitText(ctx, [['Pinatubo', BLUE_TEXT]], 'bold 62px Lato, "Open Sans", sans-serif', 1134, 1385, 801);

    // dashed arrow pointing down at the Pinatubo dip
    const ax = xs.getPixelForValue(1992.75);
    ctx.strokeStyle = BLUE_ARROW;
    ctx.lineWidth = 5;
    ctx.setLineDash([25, 20]);
    ctx.beginPath();
    ctx.moveTo(ax, 133);
    ctx.lineTo(ax, 566);
    ctx.stroke();
    ctx.setLineDash([]);
    ctx.beginPath();
    ctx.moveTo(ax, 580);
    ctx.lineTo(ax, 610);
    ctx.stroke();
    ctx.lineJoin = 'miter';
    ctx.beginPath();
    ctx.moveTo(ax - 16, 584);
    ctx.lineTo(ax, 612);
    ctx.lineTo(ax + 16, 584);
    ctx.stroke();

    ctx.restore();
  }
};

const chart = new Chart(document.getElementById('c'), {
  type: 'line',
  data: {
    datasets: [
      lineSet('NH high latitudes 16 hPa, ensemble mean', nhEnsembleMean, 'yNH', '#000000', 3.6),
      lineSet('tropics 63 hPa, ensemble mean', trEnsembleMean, 'yTR', '#000000', 3.6),
      lineSet('NH run A', nhRunA, 'yNH', GREY_RUN, 3),
      lineSet('NH run B', nhRunB, 'yNH', GREY_RUN, 3),
      lineSet('NH run C', nhRunC, 'yNH', GREY_RUN, 3),
      lineSet('tropics run A', trRunA, 'yTR', GREY_RUN, 3),
      lineSet('tropics run B', trRunB, 'yTR', GREY_RUN, 3),
      lineSet('tropics run C', trRunC, 'yTR', GREY_RUN, 3),
      {
        label: 'Volcanic eruptions', data: spikePoints, yAxisID: 'yV',
        borderWidth: 0, borderColor: 'rgba(0,0,0,0)', backgroundColor: '#000000',
        pointRadius: 0, tension: 0, fill: 'origin'
      }
    ]
  },
  options: {
    responsive: false,
    animation: false,
    devicePixelRatio: 1,
    layout: { padding: { left: 18, top: 11, right: 0, bottom: 0 } },
    plugins: { legend: { display: false }, tooltip: { enabled: false }, title: { display: false } },
    scales: {
      x: {
        type: 'linear', position: 'bottom', min: X_MIN, max: X_MAX,
        afterBuildTicks: s => { s.ticks = TICK_YEARS.map(v => ({ value: v })); },
        afterFit: s => { s.height = 88; },
        border: { display: false },
        grid: { display: true, drawOnChartArea: false, drawTicks: true, tickLength: 27, lineWidth: 2, color: INK },
        ticks: {
          autoSkip: false, maxRotation: 0, padding: 22, color: INK,
          font: { family: '"Liberation Sans", Arial, sans-serif', size: 38 },
          callback: v => String(v)
        }
      },
      yNH: {
        type: 'linear', position: 'right', min: NH_MIN, max: NH_MAX,
        afterBuildTicks: s => { s.ticks = NH_AGE_TICKS.map(v => ({ value: v })); },
        afterFit: s => { s.width = 37; },
        border: { display: false },
        grid: { display: true, drawOnChartArea: false, drawTicks: true, tickLength: 37, lineWidth: 2.5, color: INK },
        ticks: { display: false }
      },
      yTR: { type: 'linear', display: false, min: TR_MIN, max: TR_MAX },
      yV:  { type: 'linear', display: false, min: 0, max: VOLC_MAX, reverse: true }
    }
  },
  plugins: [overlay]
});
</script>
</body>
</html>
